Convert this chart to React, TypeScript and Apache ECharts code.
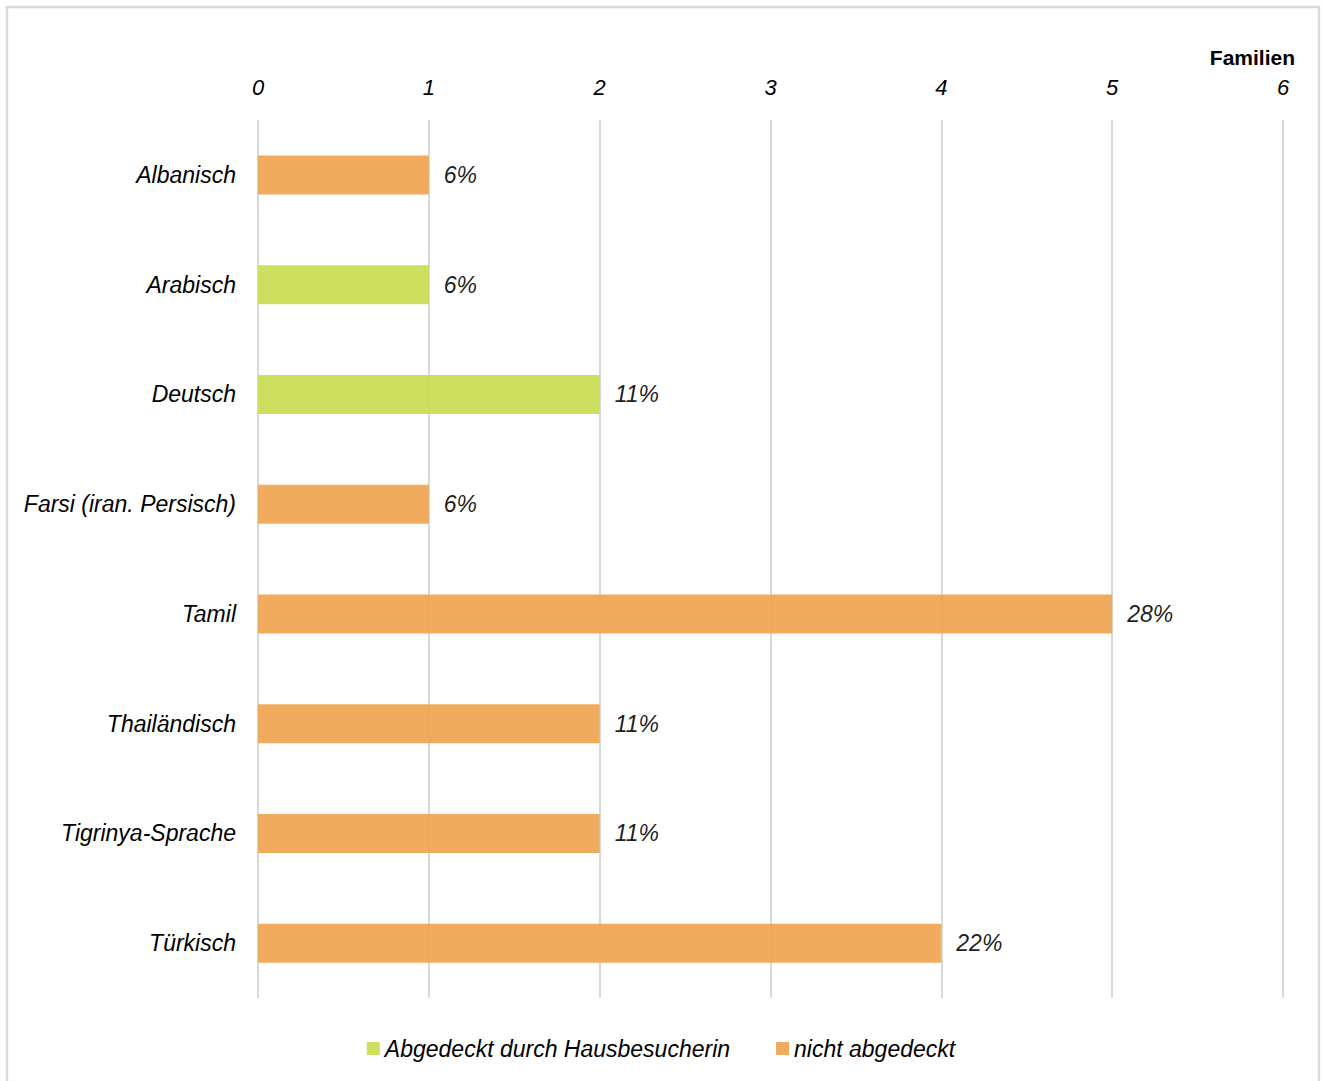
import React, { useEffect, useRef } from "react";
import * as echarts from "echarts";

const categories = [
  "Albanisch",
  "Arabisch",
  "Deutsch",
  "Farsi (iran. Persisch)",
  "Tamil",
  "Thailändisch",
  "Tigrinya-Sprache",
  "Türkisch",
];
const covered = [0, 1, 2, 0, 0, 0, 0, 0];
const notCovered = [1, 0, 0, 1, 5, 2, 2, 4];
const percentLabels = ["6%", "6%", "11%", "6%", "28%", "11%", "11%", "22%"];
const seriesNames = ["Abgedeckt durch Hausbesucherin", "nicht abgedeckt"];
const axisTitle = "Familien";

const FONT = "'Liberation Sans', Arial, sans-serif";

export default function App() {
  const ref = useRef<HTMLDivElement>(null);
  useEffect(() => {
    if (!ref.current) return;
    const chart = echarts.init(ref.current, undefined, { renderer: "svg" });
    const labelFor = (vals: number[]) => ({
      show: true,
      position: "right",
      distance: 15,
      fontSize: 23,
      fontStyle: "italic",
      fontFamily: FONT,
      color: "#000",
      formatter: (p: any) => (vals[p.dataIndex] > 0 ? percentLabels[p.dataIndex] : ""),
    });
    chart.setOption({
      animation: false,
      textStyle: { fontFamily: FONT },
      grid: { left: 258, right: 39, top: 120, bottom: 83, containLabel: false },
      xAxis: {
        type: "value",
        position: "top",
        min: 0,
        max: 6,
        interval: 1,
        axisLine: { show: false },
        axisTick: { show: false },
        splitLine: { show: true, lineStyle: { color: "#d9d9d9", width: 2 } },
        axisLabel: {
          fontSize: 22,
          fontStyle: "italic",
          fontFamily: FONT,
          color: "#000",
          margin: 22,
        },
      },
      yAxis: {
        type: "category",
        inverse: true,
        data: categories,
        axisLine: { show: false },
        axisTick: { show: false },
        splitLine: { show: false },
        axisLabel: {
          fontSize: 23,
          fontStyle: "italic",
          fontFamily: FONT,
          color: "#000",
          margin: 22,
        },
      },
      legend: {
        bottom: 16,
        left: "center",
        itemWidth: 13,
        itemHeight: 13,
        itemGap: 46,
        icon: "rect",
        textStyle: {
          fontSize: 23,
          fontStyle: "italic",
          fontFamily: FONT,
          color: "#000",
          padding: [0, 0, 0, 0],
        },
        data: seriesNames,
      },
      graphic: [
        {
          type: "rect",
          silent: true,
          shape: { x: 7, y: 7, width: 1312, height: 1080 },
          style: { fill: "none", stroke: "#d9d9d9", lineWidth: 2.5 },
        },
        {
          type: "text",
          right: 27,
          top: 47,
          style: {
            text: axisTitle,
            fontSize: 21,
            fontWeight: "bold",
            fontFamily: FONT,
            fill: "#000",
          },
        },
      ],
      series: [
        {
          name: seriesNames[0],
          type: "bar",
          stack: "total",
          barWidth: 39,
          data: covered,
          itemStyle: { color: "#C9DA4E", opacity: 0.9 },
          label: labelFor(covered),
        },
        {
          name: seriesNames[1],
          type: "bar",
          stack: "total",
          barWidth: 39,
          data: notCovered,
          itemStyle: { color: "#F0A24E", opacity: 0.9 },
          label: labelFor(notCovered),
        },
      ],
    });
    return () => chart.dispose();
  }, []);
  return (
    <div
      ref={ref}
      style={{ position: "absolute", left: 0, top: 0, width: 1322, height: 1081, background: "#fff" }}
    />
  );
}
